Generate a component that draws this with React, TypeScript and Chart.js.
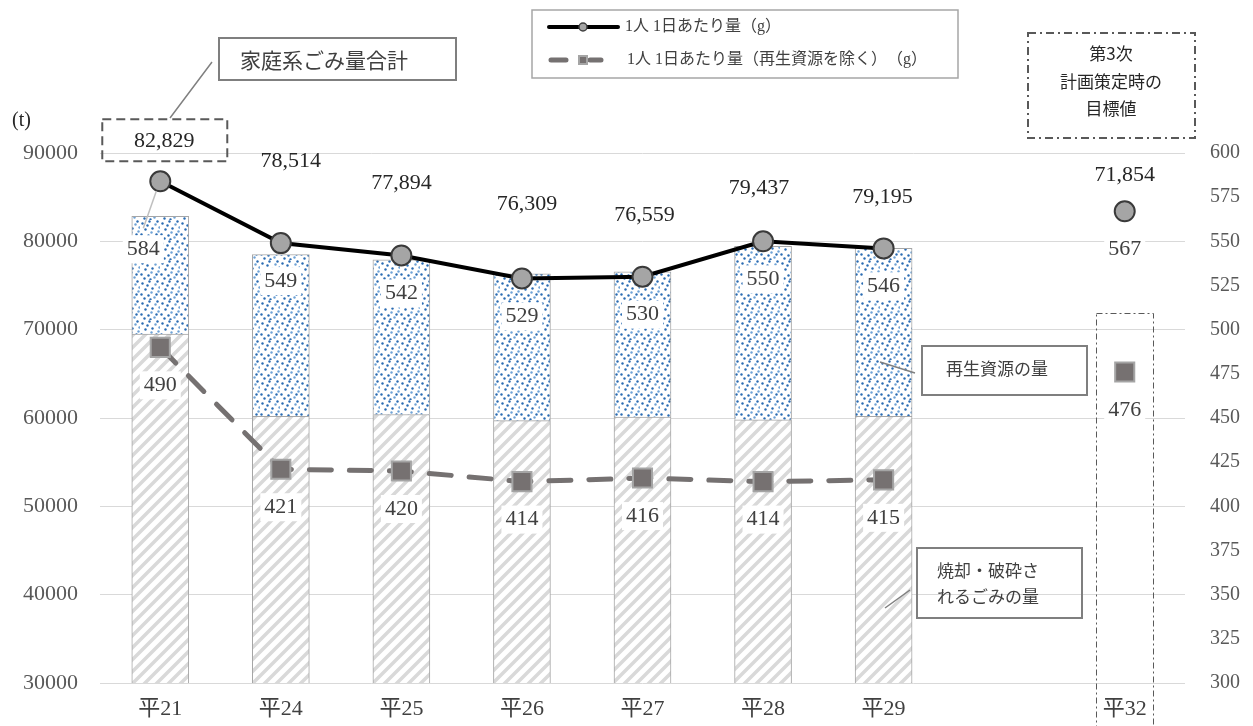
import { useEffect, useRef } from 'react';
import { Chart, registerables } from 'chart.js';

Chart.register(...registerables);

// ---------- data ----------
const categories = ['平21', '平24', '平25', '平26', '平27', '平28', '平29', '', '平32'];
const totalWaste = [82829, 78514, 77894, 76309, 76559, 79437, 79195, null, 71854];
const incineratedWaste = [69500, 60200, 60400, 59700, 60100, 59800, 60200, null, null];
const recycledWaste = [13329, 18314, 17494, 16609, 16459, 19637, 18995, null, null];
const targetWaste = [null, null, null, null, null, null, null, null, 71854];
const perCapita = [584, 549, 542, 529, 530, 550, 546, null, 567];
const perCapitaExRecycle = [490, 421, 420, 414, 416, 414, 415, null, 476];
const leftTicks = [30000, 40000, 50000, 60000, 70000, 80000, 90000];
const rightTicks = [300, 325, 350, 375, 400, 425, 450, 475, 500, 525, 550, 575, 600];

// label offsets (layout only)
const totalLabelDx = [4, 10, 0, 5, 2, -4, -1, 0, 0];
const totalLabelDy = [-40, -82, -72, -74, -61, -53, -51, 0, -36];

const SERIF = "'Liberation Serif', 'Noto Sans CJK JP', serif";
const GOTHIC = "'Noto Sans CJK JP', 'Noto Sans', sans-serif";

function hatchPattern(): CanvasPattern | string {
  const c = document.createElement('canvas');
  c.width = 12; c.height = 12;
  const g = c.getContext('2d');
  if (!g) return '#eee';
  g.fillStyle = '#ffffff';
  g.fillRect(0, 0, 12, 12);
  g.strokeStyle = '#d9d9d9';
  g.lineWidth = 3.5;
  g.beginPath();
  g.moveTo(0, 12); g.lineTo(12, 0);
  g.moveTo(-6, 6); g.lineTo(6, -6);
  g.moveTo(6, 18); g.lineTo(18, 6);
  g.stroke();
  const p = g.createPattern(c, 'repeat');
  return p || '#eee';
}

function dotPattern(): CanvasPattern | string {
  const c = document.createElement('canvas');
  c.width = 20; c.height = 20;
  const g = c.getContext('2d');
  if (!g) return '#9dc3e6';
  g.fillStyle = '#ffffff';
  g.fillRect(0, 0, 20, 20);
  const dots = [[2, 3], [9, 1], [15, 4], [5, 9], [12, 8], [18, 11], [1, 14], [8, 15], [14, 17], [17, 1], [4, 18], [11, 12], [7, 5], [16, 14], [19, 7], [10, 19]];
  dots.forEach(([x, y], i) => {
    g.fillStyle = i % 3 === 2 ? '#6fa3d6' : '#2b6cb3';
    g.beginPath();
    g.arc(x + 0.5, y + 0.5, 1.2, 0, Math.PI * 2);
    g.fill();
  });
  const p = g.createPattern(c, 'repeat');
  return p || '#9dc3e6';
}

function labelWithBg(ctx: CanvasRenderingContext2D, text: string, x: number, y: number, font: string, color: string) {
  ctx.font = font;
  const w = ctx.measureText(text).width;
  ctx.fillStyle = '#ffffff';
  ctx.fillRect(x - w / 2 - 4, y - 14, w + 8, 28);
  ctx.fillStyle = color;
  ctx.textAlign = 'center';
  ctx.textBaseline = 'middle';
  ctx.fillText(text, x, y);
}

const overlayPlugin = {
  id: 'overlay',
  afterDatasetsDraw(chart: any) {
    const ctx: CanvasRenderingContext2D = chart.ctx;
    ctx.save();
    // 平32 target bar: dash-dot outline
    const tMeta = chart.getDatasetMeta(2);
    tMeta.data.forEach((el: any, i: number) => {
      if (targetWaste[i] == null) return;
      ctx.setLineDash([6, 3, 2, 3]);
      ctx.strokeStyle = '#595959';
      ctx.lineWidth = 1;
      const l = el.x - el.width / 2;
      ctx.strokeRect(Math.round(l) + 0.5, Math.round(el.y) + 0.5, Math.round(el.width), Math.round(el.base - el.y));
      ctx.setLineDash([]);
    });

    const pcMeta = chart.getDatasetMeta(3);
    const exMeta = chart.getDatasetMeta(4);
    const numFont = `22px ${SERIF}`;

    pcMeta.data.forEach((el: any, i: number) => {
      const v = perCapita[i];
      if (v == null) return;
      if (i === 0) {
        ctx.strokeStyle = '#bfbfbf';
        ctx.lineWidth = 1.5;
        ctx.beginPath();
        ctx.moveTo(el.x - 4, el.y + 10);
        ctx.lineTo(el.x - 17, el.y + 47);
        ctx.stroke();
        labelWithBg(ctx, String(v), el.x - 17, el.y + 68, numFont, '#404040');
      } else {
        labelWithBg(ctx, String(v), el.x, el.y + 38, numFont, '#404040');
      }
    });
    exMeta.data.forEach((el: any, i: number) => {
      const v = perCapitaExRecycle[i];
      if (v == null) return;
      labelWithBg(ctx, String(v), el.x, el.y + 38, numFont, '#404040');
    });

    pcMeta.data.forEach((el: any, i: number) => {
      const v = totalWaste[i];
      if (v == null) return;
      const x = el.x + totalLabelDx[i];
      const y = el.y + totalLabelDy[i];
      ctx.font = numFont;
      ctx.fillStyle = '#262626';
      ctx.textAlign = 'center';
      ctx.textBaseline = 'middle';
      ctx.fillText(v.toLocaleString('en-US'), x, y);
      if (i === 0) {
        ctx.setLineDash([9, 5]);
        ctx.strokeStyle = '#595959';
        ctx.lineWidth = 2;
        ctx.strokeRect(x - 62, y - 22, 125, 42);
        ctx.setLineDash([]);
      }
    });
    ctx.restore();
  },
  afterDraw(chart: any) {
    const ctx: CanvasRenderingContext2D = chart.ctx;
    ctx.save();
    ctx.font = `20px ${SERIF}`;
    ctx.fillStyle = '#262626';
    ctx.textAlign = 'left';
    ctx.textBaseline = 'middle';
    ctx.fillText('(t)', 12, 121);

    // legend
    ctx.strokeStyle = '#a6a6a6';
    ctx.lineWidth = 1.5;
    ctx.strokeRect(532, 10, 426, 68);
    ctx.strokeStyle = '#000000';
    ctx.lineWidth = 4;
    ctx.lineCap = 'round';
    ctx.beginPath(); ctx.moveTo(549, 27); ctx.lineTo(618, 27); ctx.stroke();
    ctx.fillStyle = '#a5a5a5';
    ctx.lineWidth = 1.5;
    ctx.strokeStyle = '#404040';
    ctx.beginPath(); ctx.arc(583, 27, 4, 0, Math.PI * 2); ctx.fill(); ctx.stroke();
    ctx.strokeStyle = '#757171';
    ctx.lineWidth = 5;
    ctx.beginPath(); ctx.moveTo(551, 60); ctx.lineTo(566, 60); ctx.moveTo(590, 60); ctx.lineTo(601, 60); ctx.stroke();
    ctx.lineCap = 'butt';
    ctx.fillStyle = '#a5a5a5';
    ctx.fillRect(578, 55, 10, 10);
    ctx.fillStyle = '#767171';
    ctx.fillRect(580, 57, 6, 6);
    ctx.font = `16px ${SERIF}`;
    ctx.fillStyle = '#404040';
    ctx.textAlign = 'left';
    ctx.fillText('1人 1日あたり量（g）', 625, 27);
    ctx.fillText('1人 1日あたり量（再生資源を除く）　（g）', 627, 60);

    // annotation boxes
    ctx.strokeStyle = '#7f7f7f';
    ctx.lineWidth = 2;
    ctx.strokeRect(219, 38, 237, 42);
    ctx.strokeRect(922, 346, 165, 49);
    ctx.strokeRect(917, 548, 165, 70);
    ctx.strokeStyle = '#808080';
    ctx.lineWidth = 1.5;
    ctx.beginPath();
    ctx.moveTo(212, 62); ctx.lineTo(170, 118);
    ctx.moveTo(880, 362); ctx.lineTo(915, 373);
    ctx.moveTo(885, 608); ctx.lineTo(910, 590);
    ctx.stroke();

    ctx.fillStyle = '#404040';
    ctx.font = `21px ${GOTHIC}`;
    ctx.textAlign = 'left';
    ctx.fillText('家庭系ごみ量合計', 240, 60);
    ctx.font = `17px ${GOTHIC}`;
    ctx.textAlign = 'center';
    ctx.fillText('再生資源の量', 997, 369);
    ctx.textAlign = 'left';
    ctx.fillText('焼却・破砕さ', 937, 571);
    ctx.fillText('れるごみの量', 937, 597);

    // target box
    ctx.setLineDash([8, 4, 2, 4]);
    ctx.strokeStyle = '#595959';
    ctx.lineWidth = 2;
    ctx.strokeRect(1028, 33, 167, 105);
    ctx.setLineDash([]);
    ctx.font = `17px ${GOTHIC}`;
    ctx.fillStyle = '#262626';
    ctx.textAlign = 'center';
    ctx.fillText('第3次', 1111, 54);
    ctx.fillText('計画策定時の', 1111, 82);
    ctx.fillText('目標値', 1111, 109);
    ctx.restore();
  },
};

export default function App() {
  const ref = useRef<HTMLCanvasElement>(null);
  useEffect(() => {
    document.body.style.margin = '0';
    const canvas = ref.current;
    if (!canvas) return;
    const hatch = hatchPattern();
    const dots = dotPattern();
    const chart = new Chart(canvas, {
      type: 'bar',
      data: {
        labels: categories,
        datasets: [
          {
            type: 'bar',
            label: '焼却・破砕されるごみの量',
            data: incineratedWaste,
            backgroundColor: hatch as any,
            borderColor: '#a6a6a6',
            borderWidth: 1,
            barThickness: 57,
            stack: 's',
            yAxisID: 'y',
            order: 5,
          },
          {
            type: 'bar',
            label: '再生資源の量',
            data: recycledWaste,
            backgroundColor: dots as any,
            borderColor: '#a6a6a6',
            borderWidth: 1,
            barThickness: 57,
            stack: 's',
            yAxisID: 'y',
            order: 5,
          },
          {
            type: 'bar',
            label: '目標値',
            data: targetWaste,
            backgroundColor: 'rgba(0,0,0,0)',
            borderWidth: 0,
            barThickness: 57,
            stack: 's',
            yAxisID: 'y',
            order: 5,
          },
          {
            type: 'line',
            label: '1人1日あたり量（g）',
            data: perCapita,
            borderColor: '#000000',
            borderWidth: 4,
            pointRadius: 10,
            pointBackgroundColor: '#a5a5a5',
            pointBorderColor: '#3a3a3a',
            pointBorderWidth: 2,
            spanGaps: false,
            yAxisID: 'y1',
            order: 1,
          },
          {
            type: 'line',
            label: '1人1日あたり量（再生資源を除く）（g）',
            data: perCapitaExRecycle,
            borderColor: '#757171',
            borderWidth: 5,
            borderDash: [22, 18],
            borderCapStyle: 'round',
            pointStyle: 'rect',
            pointRadius: 13.5,
            pointBackgroundColor: '#767171',
            pointBorderColor: '#a5a5a5',
            pointBorderWidth: 2,
            spanGaps: false,
            yAxisID: 'y1',
            order: 2,
          },
        ] as any,
      },
      options: {
        responsive: false,
        animation: false,
        devicePixelRatio: 1,
        layout: { padding: { top: 153, left: 0, right: 0, bottom: 0 } },
        plugins: { legend: { display: false }, tooltip: { enabled: false } },
        scales: {
          x: {
            offset: true,
            grid: { display: false },
            border: { display: false },
            ticks: { color: '#404040', font: { family: SERIF, size: 22 }, padding: 5, autoSkip: false, maxRotation: 0 },
            afterFit: (s: any) => { s.height = 43; },
          },
          y: {
            position: 'left',
            stacked: true,
            min: 30000,
            max: 90000,
            afterBuildTicks: (s: any) => { s.ticks = leftTicks.map((v) => ({ value: v })); },
            grid: { color: '#d9d9d9', lineWidth: 1, drawTicks: false },
            border: { display: false },
            ticks: { color: '#595959', font: { family: SERIF, size: 22 }, padding: 22, callback: (v: any) => String(v) },
            afterFit: (s: any) => { s.width = 100; },
          },
          y1: {
            position: 'right',
            min: 300,
            max: 600,
            afterBuildTicks: (s: any) => { s.ticks = rightTicks.map((v) => ({ value: v })); },
            grid: { display: false, drawTicks: false },
            border: { display: false },
            ticks: { color: '#595959', font: { family: SERIF, size: 20 }, padding: 25 },
            afterFit: (s: any) => { s.width = 68; },
          },
        },
      } as any,
      plugins: [overlayPlugin],
    });
    return () => chart.destroy();
  }, []);
  return (
    <div style={{ width: 1253, height: 726, position: 'relative' }}>
      <canvas ref={ref} width={1253} height={726} style={{ width: '1253px', height: '726px', display: 'block' }} />
    </div>
  );
}
